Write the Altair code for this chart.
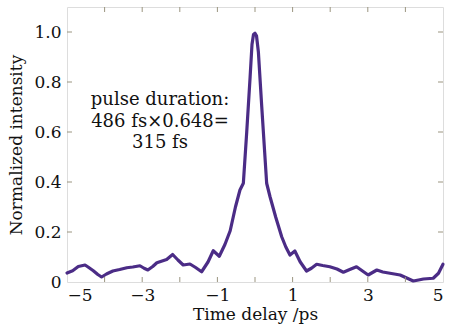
import altair as alt
import pandas as pd

# Autocorrelation trace
time_ps = [-5.0, -4.85, -4.7, -4.52, -4.44, -4.3, -4.18, -4.08, -3.95, -3.78, -3.6, -3.41,
           -3.25, -3.06, -2.95, -2.85, -2.72, -2.61, -2.45, -2.35, -2.19, -2.05, -1.91,
           -1.73, -1.58, -1.42, -1.25, -1.11, -0.95, -0.8, -0.66, -0.52, -0.4, -0.31,
           -0.22, -0.13, -0.08, -0.04, 0.0, 0.04, 0.09, 0.18, 0.31, 0.40, 0.55, 0.71, 0.82, 0.93,
           1.06, 1.20, 1.37, 1.50, 1.64, 1.80, 1.99, 2.18, 2.35, 2.52, 2.70, 2.85,
           3.01, 3.24, 3.40, 3.59, 3.86, 4.05, 4.21, 4.35, 4.48, 4.74, 4.88, 5.0]
intensity = [0.036, 0.045, 0.062, 0.068, 0.060, 0.045, 0.030, 0.020, 0.032, 0.044, 0.050, 0.057,
             0.060, 0.065, 0.055, 0.048, 0.062, 0.077, 0.085, 0.090, 0.110, 0.088, 0.068,
             0.072, 0.058, 0.041, 0.080, 0.125, 0.103, 0.150, 0.205, 0.300, 0.368, 0.395,
             0.600, 0.820, 0.950, 0.990, 0.995, 0.985, 0.920, 0.700, 0.395, 0.341, 0.260, 0.181, 0.140, 0.108,
             0.124, 0.081, 0.044, 0.055, 0.071, 0.066, 0.061, 0.052, 0.039, 0.050, 0.061, 0.045,
             0.028, 0.048, 0.040, 0.035, 0.028, 0.015, 0.004, 0.008, 0.012, 0.015, 0.035, 0.071]

x_label_ticks = [-5, -3, -1, 1, 3, 5]
x_minor_ticks = [-4, -3, -2, -1, 0, 1, 2, 3, 4]
y_ticks = [0.2, 0.4, 0.6, 0.8, 1.0]
annotation_lines = ["pulse duration:", "486 fs\u00d70.648=", "315 fs"]

FONT = "DejaVu Serif"
LINE = "#4b2c86"
FRAME = "#9b9580"
W, H = 376, 275

df = pd.DataFrame({"t": time_ps, "v": intensity})
xs = alt.Scale(domain=[-5, 5], nice=False, zero=False)
ys = alt.Scale(domain=[0, 1.1], nice=False)

line = alt.Chart(df).mark_line(color=LINE, strokeWidth=3.2, strokeJoin="round", strokeCap="round").encode(
    x=alt.X("t:Q", scale=xs,
            axis=alt.Axis(values=x_label_ticks, title="Time delay /ps", format="d",
                          ticks=False, domain=False, grid=False, labelPadding=5,
                          labelFont=FONT, labelFontSize=17, labelColor="#111",
                          titleFont=FONT, titleFontSize=17, titleFontWeight="normal",
                          titleColor="#111", titlePadding=3)),
    y=alt.Y("v:Q", scale=ys,
            axis=alt.Axis(values=[0] + y_ticks, title="Normalized intensity",
                          labelExpr="datum.value == 0 ? '0' : format(datum.value, '.1f')",
                          ticks=False, domain=False, grid=False, labelPadding=6,
                          labelFont=FONT, labelFontSize=17, labelColor="#111",
                          titleFont=FONT, titleFontSize=17, titleFontWeight="normal",
                          titleColor="#111", titlePadding=8)),
)

xt = pd.DataFrame({"t": x_minor_ticks})
bottom_ticks = alt.Chart(xt).mark_rule(color=FRAME, strokeWidth=1).encode(
    x=alt.X("t:Q", scale=xs), y=alt.value(H), y2=alt.value(H - 5))
top_ticks = alt.Chart(xt).mark_rule(color=FRAME, strokeWidth=1).encode(
    x=alt.X("t:Q", scale=xs), y=alt.value(0), y2=alt.value(5))
yt = pd.DataFrame({"v": y_ticks})
left_ticks = alt.Chart(yt).mark_rule(color=FRAME, strokeWidth=1).encode(
    y=alt.Y("v:Q", scale=ys), x=alt.value(0), x2=alt.value(5))
right_ticks = alt.Chart(yt).mark_rule(color=FRAME, strokeWidth=1).encode(
    y=alt.Y("v:Q", scale=ys), x=alt.value(W), x2=alt.value(W - 5))

text_layers = []
for i, (txt, ypix) in enumerate(zip(annotation_lines, [93, 115, 136])):
    tdf = pd.DataFrame({"txt": [txt]})
    text_layers.append(
        alt.Chart(tdf).mark_text(font=FONT, fontSize=18, color="#111", align="center",
                                 baseline="middle").encode(
            text="txt:N", x=alt.value(93), y=alt.value(ypix))
    )

chart = alt.layer(line, bottom_ticks, top_ticks, left_ticks, right_ticks, *text_layers).properties(
    width=W, height=H,
    autosize=alt.AutoSizeParams(type="none"),
    padding={"left": 67, "top": 7, "right": 8, "bottom": 53},
).configure_view(stroke=FRAME, strokeWidth=2).configure(background="white")

chart.save("out.html", embed_options={"renderer": "svg", "actions": False})
